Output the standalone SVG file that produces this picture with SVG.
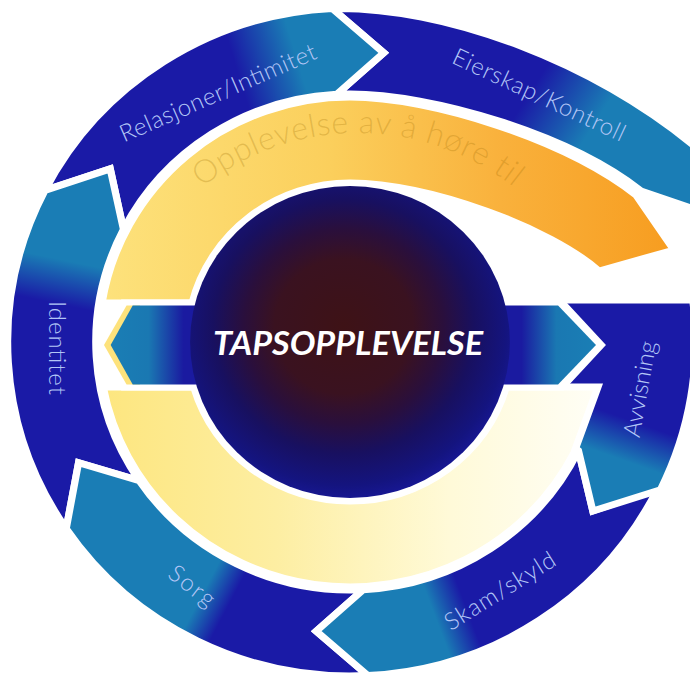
<svg xmlns="http://www.w3.org/2000/svg" width="690" height="677" viewBox="0 0 690 677">
<style>
.d{stop-color:#1a1aa6}
.t{stop-color:#1a7db5}
.sh{stroke:#fff;stroke-width:7;stroke-linejoin:miter}
.lbl{font-family:Lato,"Open Sans","DejaVu Sans",sans-serif;font-weight:300;font-size:24px;fill:#b3c6f6;text-anchor:middle}
</style>
<defs>
<linearGradient id="gRel" gradientUnits="userSpaceOnUse" x1="240" y1="71" x2="297" y2="54"><stop offset="0" class="d"/><stop offset="1" class="t"/></linearGradient>
<linearGradient id="gIde" gradientUnits="userSpaceOnUse" x1="60.8" y1="303" x2="70" y2="260"><stop offset="0" class="d"/><stop offset="1" class="t"/></linearGradient>
<linearGradient id="gSor" gradientUnits="userSpaceOnUse" x1="230.4" y1="607.7" x2="205.4" y2="594.9"><stop offset="0" class="d"/><stop offset="1" class="t"/></linearGradient>
<linearGradient id="gSka" gradientUnits="userSpaceOnUse" x1="464.5" y1="609.9" x2="434.5" y2="620.9"><stop offset="0" class="d"/><stop offset="1" class="t"/></linearGradient>
<linearGradient id="gAvv" gradientUnits="userSpaceOnUse" x1="630.2" y1="422.7" x2="616.6" y2="460.3"><stop offset="0" class="d"/><stop offset="1" class="t"/></linearGradient>
<linearGradient id="gEie" gradientUnits="userSpaceOnUse" x1="532.3" y1="81.5" x2="591.8" y2="118.6"><stop offset="0" class="d"/><stop offset="1" class="t"/></linearGradient>
<linearGradient id="gUp" gradientUnits="userSpaceOnUse" x1="108" y1="0" x2="664" y2="0"><stop offset="0" stop-color="#fde27c"/><stop offset="0.4" stop-color="#fbcf5c"/><stop offset="0.7" stop-color="#f9b13c"/><stop offset="1" stop-color="#f79d20"/></linearGradient>
<linearGradient id="gLow" gradientUnits="userSpaceOnUse" x1="109" y1="0" x2="592" y2="0"><stop offset="0" stop-color="#fde67f"/><stop offset="0.35" stop-color="#fdeea2"/><stop offset="0.7" stop-color="#fffad8"/><stop offset="1" stop-color="#fffef6"/></linearGradient>
<linearGradient id="gBand" gradientUnits="userSpaceOnUse" x1="110" y1="0" x2="595" y2="0"><stop offset="0" stop-color="#1a7fb5"/><stop offset="0.09" stop-color="#1a78b2"/><stop offset="0.16" stop-color="#1a1aa0"/><stop offset="0.84" stop-color="#1a1aa0"/><stop offset="0.91" stop-color="#1a78b2"/><stop offset="1" stop-color="#1a7fb5"/></linearGradient>
<radialGradient id="gCore" cx="0.48" cy="0.45" r="0.6"><stop offset="0" stop-color="#3e1216"/><stop offset="0.36" stop-color="#3a1220"/><stop offset="0.52" stop-color="#2a0f3c"/><stop offset="0.68" stop-color="#181060"/><stop offset="0.85" stop-color="#14147f"/><stop offset="1" stop-color="#1a1aa6"/></radialGradient>
<path id="pTil" d="M165.7,222.7 A251,251 0 0 1 550.3,222.7" fill="none"/>
</defs>
<rect width="690" height="677" fill="#fff"/>

<g id="eierskap">
<path class="sh" fill="url(#gEie)" transform="matrix(1.025 0 0 1 -8.75 0)" d="M332.52,8.46 C440,6 590,60 700,158 L700,214 L634,191 C563,134 430,94 350,94 L337.02,94.34 L382.94,52.87 Z"/>
<text class="lbl" transform="translate(539,95) rotate(25)" y="8" textLength="188" lengthAdjust="spacing">Eierskap/Kontroll</text>
</g>
<g id="relasjoner">
<path class="sh" fill="url(#gRel)" transform="matrix(1.025 0 0 1 -8.75 0)" d="M52.40,190.37 A334,334 0 0 1 332.52,8.46 L382.94,52.87 L337.02,94.34 A248,248 0 0 0 129.03,229.41 L116.08,168.91 Z"/>
<text class="lbl" transform="translate(218,93) rotate(-23.5)" y="8" textLength="212" lengthAdjust="spacing">Relasjoner/Intimitet</text>
</g>
<g id="identitet">
<path class="sh" fill="url(#gIde)" transform="matrix(1.025 0 0 1 -8.75 0)" d="M73.10,528.77 A334,334 0 0 1 52.40,190.37 L116.08,168.91 L129.03,229.41 A248,248 0 0 0 144.40,480.68 L85.20,462.67 Z"/>
<text class="lbl" transform="translate(57,348) rotate(90)" y="8" textLength="94" lengthAdjust="spacing">Identitet</text>
</g>
<g id="sorg">
<path class="sh" fill="url(#gSor)" transform="matrix(1.025 0 0 1 -8.75 0)" d="M367.48,675.54 A334,334 0 0 1 73.10,528.77 L85.20,462.67 L144.40,480.68 A248,248 0 0 0 362.98,589.66 L317.06,631.13 Z"/>
<text class="lbl" transform="translate(192,586) rotate(38)" y="8" textLength="52" lengthAdjust="spacing">Sorg</text>
</g>
<g id="skam">
<path class="sh" fill="url(#gSka)" transform="matrix(1.025 0 0 1 -8.75 0)" d="M650.20,488.42 A334,334 0 0 1 367.48,675.54 L317.06,631.13 L362.98,589.66 A248,248 0 0 0 572.90,450.72 L586.91,510.98 Z"/>
<text class="lbl" transform="translate(500,591) rotate(-32)" y="8" textLength="126" lengthAdjust="spacing">Skam/skyld</text>
</g>
<g id="avvisning">
<path class="sh" fill="url(#gAvv)" transform="matrix(1.025 0 0 1 -8.75 0)" d="M548,300 L684.4,300 A337,337 0 0 1 652.89,489.73 L586.91,510.98 L572.90,450.72 L548,430 Z"/>
<text class="lbl" transform="translate(640,389) rotate(-80)" y="8" textLength="97" lengthAdjust="spacing">Avvisning</text>
</g>

<g id="tilhorighet">
<path class="sh" fill="url(#gUp)" transform="matrix(1.025 0 0 1 -8.75 0)" d="M108.1,303 A245,245 0 0 1 350,97 C430,97 560,140 629,195 L666,250 L593,271 C545,228 430,184 350,183 A159,159 0 0 0 195.9,303 Z"/>
<text font-family="Lato,'Open Sans',sans-serif" font-weight="300" font-size="32" letter-spacing="0.6" fill="#9a6a00" fill-opacity="0.25"><textPath href="#pTil" startOffset="50%" text-anchor="middle">Opplevelse av å høre til</textPath></text>
</g>
<g id="nedre-bue">
<path class="sh" fill="url(#gLow)" transform="matrix(1.025 0 0 1 -8.75 0)" d="M109.2,387 A245,245 0 0 0 568.4,453 L591.9,387 L502.5,387 A159,159 0 0 1 197.5,387 Z"/>
</g>

<g id="tapsopplevelse">
<g transform="matrix(1.025 0 0 1 -8.75 0)">
<path class="sh" fill="#fff" d="M108,345 L129,303 L557,303 L595,345 L557,387 L129,387 Z"/>
<path fill="#fde27c" d="M110,345 L132,305.5 L145,305.5 L145,384.5 L132,384.5 Z"/>
<path fill="url(#gBand)" d="M116.5,345 L138,305.5 L553,305.5 L590,345 L553,384.5 L138,384.5 Z"/>
</g>
<ellipse cx="350" cy="342" rx="159.9" ry="156" fill="url(#gCore)"/>
<text x="348" y="355" font-family="Lato,'Open Sans',sans-serif" font-weight="700" font-style="italic" font-size="32" fill="#fff" text-anchor="middle" textLength="270" lengthAdjust="spacingAndGlyphs">TAPSOPPLEVELSE</text>
</g>
</svg>
